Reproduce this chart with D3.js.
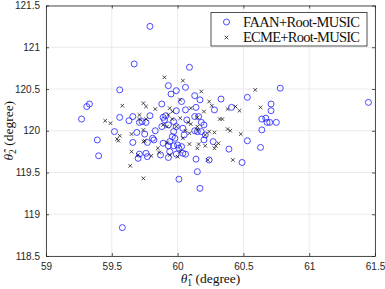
<!DOCTYPE html>
<html>
<head>
<meta charset="utf-8">
<script src="https://cdn.jsdelivr.net/npm/d3@7"></script>
<style>
  html, body { margin: 0; padding: 0; background: #fff; }
  svg { display: block; }
</style>
</head>
<body>
<div id="container"></div>
<script>
let w = 385,
    h = 289;

// FAAN+Root-MUSIC estimates [theta1, theta2]
let faan = [
  [59.79,121.25],[59.67,120.80],[60.09,120.76],[59.56,120.49],[59.33,120.32],[59.31,120.29],
  [59.27,120.14],[59.39,119.89],[59.56,120.16],[59.63,120.12],[59.66,120.17],[59.52,119.99],
  [59.66,119.86],[59.69,119.98],[59.75,119.96],[59.79,120.18],[59.76,120.10],[59.71,120.10],
  [59.88,120.32],[59.93,120.54],[59.95,120.44],[59.99,120.48],[60.06,120.52],[60.13,120.42],
  [60.06,120.25],[60.03,120.35],[59.99,120.24],[59.89,120.16],[59.91,120.18],[59.90,120.13],
  [59.97,120.11],[59.83,120.00],[59.97,119.99],[60.05,119.95],[60.04,120.03],[60.13,120.00],
  [60.16,120.17],[60.17,120.37],[59.96,119.93],[59.81,119.91],[59.77,119.86],[59.89,119.85],
  [59.93,119.82],[59.97,119.82],[60.00,119.83],[59.40,119.70],[59.58,118.84],[60.01,119.42],
  [59.70,119.67],[59.71,119.72],[59.77,119.69],[59.87,119.71],[59.93,119.68],[60.04,119.73],
  [60.14,119.66],[60.15,119.51],[60.17,119.31],[60.01,119.79],[60.33,120.38],[60.53,120.40],
  [60.78,120.51],[61.45,120.34],[60.71,120.32],[60.71,120.24],[60.64,120.14],[60.67,120.15],
  [60.68,120.10],[60.70,120.10],[60.75,120.10],[60.64,120.01],[60.53,119.88],[60.63,119.80],
  [60.39,119.78],[60.41,120.28],[60.28,120.25],[60.14,120.28],[60.18,120.10],[60.21,119.95],
  [60.18,119.99],[60.27,119.87],[60.20,119.89],[60.49,119.62],[60.24,119.65],[60.06,119.72],
  [59.73,120.11],[59.82,119.89],[59.94,119.87],[59.98,119.91],[60.03,119.81],[59.99,120.05],
  [60.07,120.13],[59.93,120.07],[59.88,120.05],[59.94,119.75],[59.99,119.72],[59.76,119.73],
  [60.13,120.17],[60.20,120.07],[60.15,119.99]
];

// ECME+Root-MUSIC estimates [theta1, theta2]
let ecme = [
  [59.90,120.64],[60.04,120.60],[59.58,120.30],[59.74,120.33],[59.76,120.29],[59.83,120.26],
  [59.94,120.27],[60.02,120.37],[60.10,120.27],[59.45,120.12],[59.49,120.09],[59.56,119.94],
  [59.54,119.90],[59.71,120.14],[59.76,120.14],[59.74,120.01],[59.65,119.96],[59.92,120.05],
  [59.99,120.05],[60.02,120.15],[60.08,120.10],[59.96,120.14],[60.09,119.97],[60.16,119.84],
  [59.74,119.87],[59.92,119.86],[59.64,119.58],[59.74,119.43],[59.65,119.75],[59.70,119.71],
  [59.55,119.88],[59.80,119.70],[59.85,119.79],[59.86,119.74],[59.94,119.71],[60.00,119.69],
  [59.75,119.88],[60.09,119.84],[60.18,120.47],[60.59,120.49],[60.24,120.35],[60.26,120.30],
  [60.20,120.23],[60.38,120.26],[60.44,120.29],[60.47,120.24],[60.63,120.28],[60.32,120.14],
  [60.34,120.14],[60.15,120.16],[60.38,120.02],[60.40,120.00],[60.48,119.96],[60.24,119.99],
  [60.28,119.98],[60.15,120.01],[60.31,119.85],[60.29,119.82],[60.42,119.65],[60.23,119.65],
  [60.28,119.79],[60.15,119.79],[60.21,119.82],[60.10,120.08],[60.15,120.05],[60.21,119.95],
  [59.71,120.19],[59.89,120.07],[59.93,120.19],[59.96,120.23],[60.04,119.91],[60.02,119.75],
  [60.06,120.00]
];

let xTicks = [59, 59.5, 60, 60.5, 61, 61.5];
let yTicks = [118.5, 119, 119.5, 120, 120.5, 121, 121.5];
let seriesNames = ['FAAN+Root-MUSIC', 'ECME+Root-MUSIC'];

let viz = d3.select('#container')
    .append('svg')
      .attr('width', w)
      .attr('height', h)
      .style('background', '#fff');

let m = {left: 46, right: 10, top: 5.5, bottom: 33};

let x = d3.scaleLinear().domain([59, 61.5]).range([m.left, w - m.right]);
let y = d3.scaleLinear().domain([118.5, 121.5]).range([h - m.bottom, m.top]);

function main() {
    let tickFont = '"Liberation Sans", Arial, sans-serif';
    let serif = '"Liberation Serif", "Times New Roman", serif';

    // grid
    viz.append('g').selectAll('line').data(xTicks).join('line')
        .attr('x1', d => x(d)).attr('x2', d => x(d))
        .attr('y1', y.range()[0]).attr('y2', y.range()[1])
        .attr('stroke', '#e6e6e6').attr('stroke-width', 0.8);
    viz.append('g').selectAll('line').data(yTicks).join('line')
        .attr('y1', d => y(d)).attr('y2', d => y(d))
        .attr('x1', x.range()[0]).attr('x2', x.range()[1])
        .attr('stroke', '#e6e6e6').attr('stroke-width', 0.8);

    // axes
    let fmt = d => d3.format('')(d);
    let xAxis = viz.append('g')
        .attr('transform', 'translate(0,' + y(118.5) + ')')
        .call(d3.axisBottom(x).tickValues(xTicks).tickFormat(fmt).tickSizeInner(-3).tickSizeOuter(0).tickPadding(7));
    let xTop = viz.append('g')
        .attr('transform', 'translate(0,' + y(121.5) + ')')
        .call(d3.axisTop(x).tickValues(xTicks).tickFormat('').tickSizeInner(-3).tickSizeOuter(0));
    let yAxis = viz.append('g')
        .attr('transform', 'translate(' + x(59) + ',0)')
        .call(d3.axisLeft(y).tickValues(yTicks).tickFormat(fmt).tickSizeInner(-3).tickSizeOuter(0).tickPadding(6));
    let yRight = viz.append('g')
        .attr('transform', 'translate(' + x(61.5) + ',0)')
        .call(d3.axisRight(y).tickValues(yTicks).tickFormat('').tickSizeInner(-3).tickSizeOuter(0));

    [xAxis, xTop, yAxis, yRight].forEach(a => {
        a.select('.domain').attr('stroke', '#262626').attr('stroke-width', 0.8);
        a.selectAll('.tick line').attr('stroke', '#262626').attr('stroke-width', 0.8);
        a.selectAll('text').attr('fill', '#262626').attr('font-family', tickFont).attr('font-size', 10);
    });

    // FAAN circles
    viz.append('g').selectAll('circle').data(faan).join('circle')
        .attr('cx', d => x(d[0]))
        .attr('cy', d => y(d[1]))
        .attr('r', 3)
        .attr('fill', 'none')
        .attr('stroke', '#2020ff')
        .attr('stroke-width', 0.8);

    // ECME crosses
    viz.append('g').selectAll('path').data(ecme).join('path')
        .attr('d', 'M-1.8,-1.8L1.8,1.8M-1.8,1.8L1.8,-1.8')
        .attr('transform', d => 'translate(' + x(d[0]) + ',' + y(d[1]) + ')')
        .attr('stroke', '#111')
        .attr('stroke-width', 0.75)
        .attr('fill', 'none');

    // legend
    let lg = viz.append('g').attr('transform', 'translate(211,12.5)');
    lg.append('rect')
        .attr('width', 156).attr('height', 33.5)
        .attr('fill', '#fff').attr('stroke', '#262626').attr('stroke-width', 0.8);
    lg.append('circle').attr('cx', 15.5).attr('cy', 9.5).attr('r', 3)
        .attr('fill', 'none').attr('stroke', '#2020ff').attr('stroke-width', 0.8);
    lg.append('path').attr('d', 'M-1.8,-1.8L1.8,1.8M-1.8,1.8L1.8,-1.8')
        .attr('transform', 'translate(15.5,25)')
        .attr('stroke', '#111').attr('stroke-width', 0.75);
    lg.selectAll('text').data(seriesNames).join('text')
        .attr('x', 32)
        .attr('y', (d, i) => 14 + i * 15.5)
        .attr('font-family', serif)
        .attr('font-size', 14.5)
        .attr('textLength', 117)
        .attr('fill', '#111')
        .text(d => d);

    // axis labels
    let xl = viz.append('text')
        .attr('x', (x(59) + x(61.5)) / 2)
        .attr('y', 283)
        .attr('text-anchor', 'middle')
        .attr('font-family', serif)
        .attr('font-size', 13.5)
        .attr('fill', '#111');
    xl.append('tspan').attr('font-style', 'italic').text('\u03B8\u0302');
    xl.append('tspan').attr('font-size', 9.5).attr('dy', 3).text('1');
    xl.append('tspan').attr('dy', -3).text(' (degree)');

    let yl = viz.append('text')
        .attr('transform', 'translate(13,' + ((y(118.5) + y(121.5)) / 2) + ') rotate(-90)')
        .attr('text-anchor', 'middle')
        .attr('font-family', serif)
        .attr('font-size', 13.5)
        .attr('fill', '#111');
    yl.append('tspan').attr('font-style', 'italic').text('\u03B8\u0302');
    yl.append('tspan').attr('font-size', 9.5).attr('dy', 3).text('2');
    yl.append('tspan').attr('dy', -3).text(' (degree)');
}

main();
</script>
</body>
</html>
